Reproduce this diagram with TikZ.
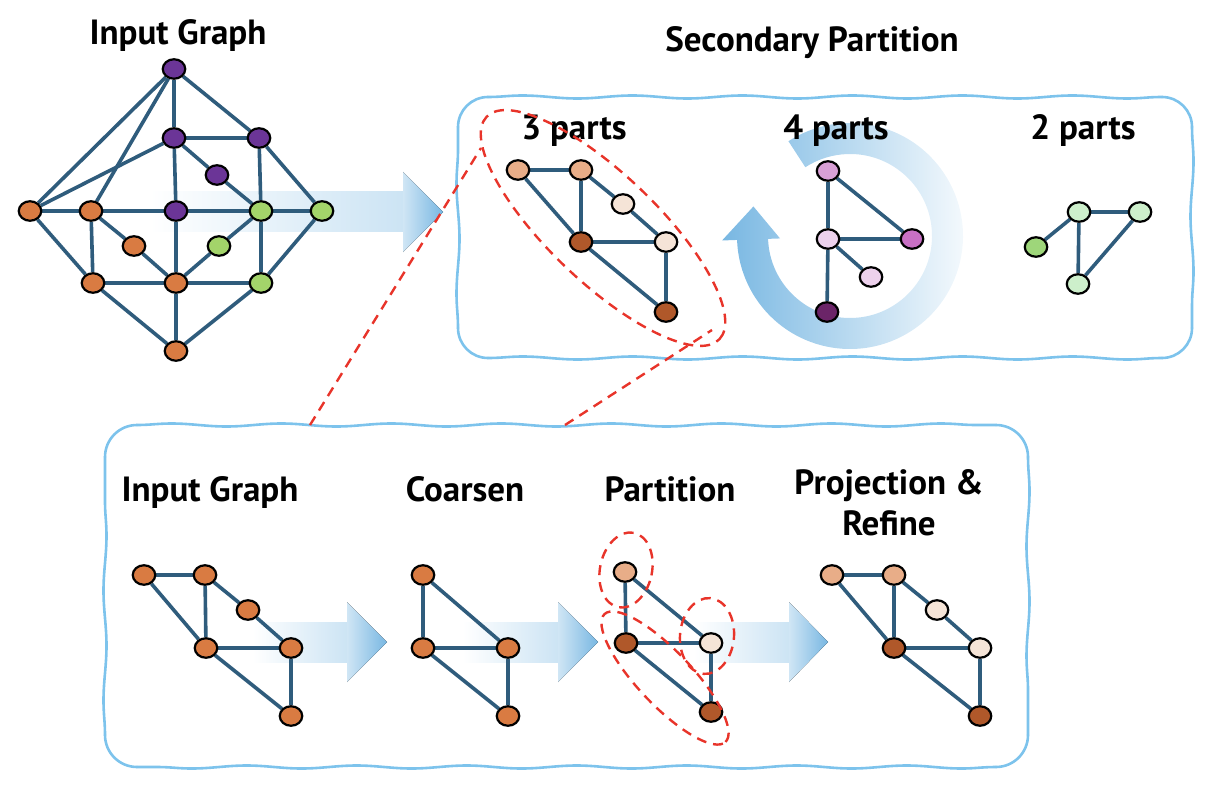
\documentclass[tikz,border=0pt]{standalone}
\usepackage{fontspec}
\setmainfont{PT Sans}
\usetikzlibrary{shapes.geometric,decorations.pathmorphing,calc}
\definecolor{edgecol}{RGB}{47,92,124}
\definecolor{orng}{RGB}{217,123,66}
\definecolor{purp}{RGB}{107,53,151}
\definecolor{grn}{RGB}{163,212,106}
\definecolor{salm}{RGB}{232,173,136}
\definecolor{pale}{RGB}{245,228,215}
\definecolor{brwn}{RGB}{176,88,42}
\definecolor{pinkA}{RGB}{217,160,214}
\definecolor{pinkB}{RGB}{237,209,236}
\definecolor{pinkC}{RGB}{200,112,196}
\definecolor{plum}{RGB}{107,36,104}
\definecolor{lgrn}{RGB}{205,239,203}
\definecolor{mgrn}{RGB}{158,214,122}
\definecolor{boxblue}{RGB}{125,195,236}
\definecolor{redd}{RGB}{232,52,42}
\definecolor{arrblue}{RGB}{120,183,226}
\pgfdeclarelayer{back}
\pgfdeclarelayer{edges}
\pgfdeclarelayer{front}
\pgfsetlayers{back,edges,main,front}
\newcommand\lblfont{\fontsize{35}{41}\selectfont\bfseries}
\tikzset{
  vx/.style={ellipse, draw=black, line width=2.2pt, minimum width=22.5pt, minimum height=19.5pt, inner sep=0pt},
  ed/.style={draw=edgecol, line width=3.6pt},
  lbl/.style={font=\lblfont, anchor=base, inner sep=0pt},
  boxline/.style={draw=boxblue, line width=2.6pt, line cap=round},
  wavy/.style={decorate, decoration={snake, segment length=110pt, amplitude=1.5pt}},
  reddash/.style={draw=redd, line width=2.4pt, dash pattern=on 10pt off 7pt},
  redell/.style={ellipse, reddash, inner sep=0pt},
  shaftfill/.style={left color=white, right color=arrblue!38, draw=none},
  headfill/.style={left color=arrblue!35, right color=arrblue, draw=none},
}
% wavy rounded frame: x0 y0 x1 y1 radius
\newcommand\wavyrect[5]{%
  \draw[boxline, wavy] (#1+#5,#2) -- (#3-#5,#2);
  \draw[boxline] (#3-#5,#2) arc[start angle=-90, end angle=0, radius=#5];
  \draw[boxline, wavy] (#3,#2+#5) -- (#3,#4-#5);
  \draw[boxline] (#3,#4-#5) arc[start angle=0, end angle=90, radius=#5];
  \draw[boxline, wavy] (#3-#5,#4) -- (#1+#5,#4);
  \draw[boxline] (#1+#5,#4) arc[start angle=90, end angle=180, radius=#5];
  \draw[boxline, wavy] (#1,#4-#5) -- (#1,#2+#5);
  \draw[boxline] (#1,#2+#5) arc[start angle=180, end angle=270, radius=#5];
}
\begin{document}
\begin{tikzpicture}[x=1pt,y=-1pt]
\useasboundingbox (0,0) rectangle (1206,786);

% ---------- backgrounds ----------
\begin{pgfonlayer}{back}
  % top big arrow
  \fill[shaftfill] (150,192) rectangle (404,232);
  \fill[headfill] (403,172) -- (443,212) -- (403,252) -- cycle;
  % boxes
  \wavyrect{458}{97}{1192}{358}{30}
  \wavyrect{105}{425}{1028}{767}{32}
  % bottom arrows
  \fill[shaftfill] (253,622) rectangle (348,662);
  \fill[headfill] (347,602) -- (387,642) -- (347,682) -- cycle;
  \fill[shaftfill] (463,622) rectangle (559,662);
  \fill[headfill] (558,602) -- (598,642) -- (558,682) -- cycle;
  \fill[shaftfill] (694,622) rectangle (790,662);
  \fill[headfill] (789,602) -- (828,642) -- (789,682) -- cycle;
  % circular arrow
  \coordinate (C) at (850,236);
  \shade[left color=arrblue, middle color=arrblue!30, right color=arrblue!3]
    (C) ++(-123:113) arc[start angle=-123, end angle=178, radius=113]
    -- ($(C)+(178:128)$) -- ($(C)+(197:101)$) -- ($(C)+(178:70)$)
    -- ($(C)+(178:82)$) arc[start angle=178, end angle=-123, radius=82] -- cycle;
\end{pgfonlayer}

% ---------- labels ----------
\node[lbl] (L1) at (178,45) {Input Graph};
\node[lbl] (L2) at (812,52) {Secondary Partition};
\node[lbl] (L3) at (574,140) {3 parts};
\node[lbl] (L4) at (836,140) {4 parts};
\node[lbl] (L5) at (1083,140) {2 parts};
\node[lbl] (L6) at (210,501) {Input Graph};
\node[lbl] (L7) at (465,501) {Coarsen};
\node[lbl] (L8) at (670,501) {Partition};
\node[font=\lblfont, align=center, inner sep=0pt] (L9) at (889,503) {Projection \&\\Refine};

% ---------- input graph (top) ----------
\node[vx, fill=purp] (t1) at (174,69) {};
\node[vx, fill=purp] (t2) at (174,138) {};
\node[vx, fill=purp] (t3) at (259,138) {};
\node[vx, fill=purp] (t4) at (217,175) {};
\node[vx, fill=orng] (t5) at (30,211) {};
\node[vx, fill=orng] (t6) at (91,211) {};
\node[vx, fill=purp] (t7) at (176,211) {};
\node[vx, fill=grn] (t8) at (261,211) {};
\node[vx, fill=grn] (t9) at (322,211) {};
\node[vx, fill=orng] (t10) at (134,246) {};
\node[vx, fill=grn] (t11) at (219,246) {};
\node[vx, fill=orng] (t12) at (93,283) {};
\node[vx, fill=orng] (t13) at (176,283) {};
\node[vx, fill=grn] (t14) at (261,283) {};
\node[vx, fill=orng] (t15) at (176,351) {};

% ---------- 3 parts ----------
\node[vx, fill=salm] (a1) at (518,170) {};
\node[vx, fill=salm] (a2) at (581,170) {};
\node[vx, fill=pale] (a3) at (623,204) {};
\node[vx, fill=brwn] (a4) at (581,242) {};
\node[vx, fill=pale] (a5) at (666,242) {};
\node[vx, fill=brwn] (a6) at (666,312) {};

% ---------- 4 parts ----------
\node[vx, fill=pinkA] (b1) at (828,171) {};
\node[vx, fill=pinkB] (b2) at (828,239) {};
\node[vx, fill=pinkC] (b3) at (912,239) {};
\node[vx, fill=pinkB] (b4) at (871,277) {};
\node[vx, fill=plum] (b5) at (827,312) {};

% ---------- 2 parts ----------
\node[vx, fill=lgrn] (c1) at (1079,212) {};
\node[vx, fill=lgrn] (c2) at (1140,212) {};
\node[vx, fill=mgrn] (c3) at (1036,247) {};
\node[vx, fill=lgrn] (c4) at (1078,284) {};

% ---------- bottom: input graph ----------
\node[vx, fill=orng] (d1) at (144,575) {};
\node[vx, fill=orng] (d2) at (205,575) {};
\node[vx, fill=orng] (d3) at (248,610) {};
\node[vx, fill=orng] (d4) at (206,648) {};
\node[vx, fill=orng] (d5) at (291,648) {};
\node[vx, fill=orng] (d6) at (291,716) {};

% ---------- bottom: coarsen ----------
\node[vx, fill=orng] (e1) at (423,575) {};
\node[vx, fill=orng] (e2) at (423,648) {};
\node[vx, fill=orng] (e3) at (508,648) {};
\node[vx, fill=orng] (e4) at (508,716) {};

% ---------- bottom: partition ----------
\node[vx, fill=salm] (f1) at (625,572) {};
\node[vx, fill=brwn] (f2) at (626,643) {};
\node[vx, fill=pale] (f3) at (711,643) {};
\node[vx, fill=brwn] (f4) at (711,712) {};

% ---------- bottom: projection & refine ----------
\node[vx, fill=salm] (g1) at (832,575) {};
\node[vx, fill=salm] (g2) at (894,575) {};
\node[vx, fill=pale] (g3) at (937,610) {};
\node[vx, fill=brwn] (g4) at (894,648) {};
\node[vx, fill=pale] (g5) at (980,648) {};
\node[vx, fill=brwn] (g6) at (980,716) {};

% ---------- edges ----------
\begin{pgfonlayer}{edges}
\foreach \p/\q in {t1/t5,t1/t6,t1/t2,t1/t3,t2/t5,t2/t3,t2/t4,t2/t7,t3/t8,t3/t9,t4/t8,
  t5/t6,t6/t7,t7/t8,t8/t9,t5/t12,t6/t12,t6/t10,t10/t13,t7/t13,t8/t11,t11/t13,t8/t14,t9/t14,
  t12/t13,t13/t14,t12/t15,t13/t15,t14/t15,
  a1/a2,a1/a4,a2/a4,a2/a3,a3/a5,a4/a5,a4/a6,a5/a6,
  b1/b2,b1/b3,b2/b3,b2/b4,b2/b5,
  c1/c2,c1/c3,c1/c4,c2/c4,
  d1/d2,d1/d4,d2/d4,d2/d3,d3/d5,d4/d5,d4/d6,d5/d6,
  e1/e2,e1/e3,e2/e3,e2/e4,e3/e4,
  f1/f2,f1/f3,f2/f3,f2/f4,f3/f4,
  g1/g2,g1/g4,g2/g4,g2/g3,g3/g5,g4/g5,g4/g6,g5/g6}
  \draw[ed] (\p) -- (\q);
\end{pgfonlayer}

% ---------- red dashed groups ----------
\begin{pgfonlayer}{front}
\node[redell, minimum width=322pt, minimum height=108pt, rotate=-43.7] (E) at (603,228) {};
\node[redell, minimum width=52pt, minimum height=76pt, rotate=-12] (P1) at (626,570) {};
\node[redell, minimum width=54pt, minimum height=76pt, rotate=-5] (P2) at (707,636) {};
\node[redell, minimum width=176pt, minimum height=54pt, rotate=-46.6] (P3) at (665,678) {};
\coordinate (r1) at (310,425);
\coordinate (r2) at (481,148);
\coordinate (r3) at (565,425);
\coordinate (r4) at (712,330);
\draw[reddash] (r1) -- (r2);
\draw[reddash] (r3) -- (r4);
\end{pgfonlayer}
\end{tikzpicture}
\end{document}
